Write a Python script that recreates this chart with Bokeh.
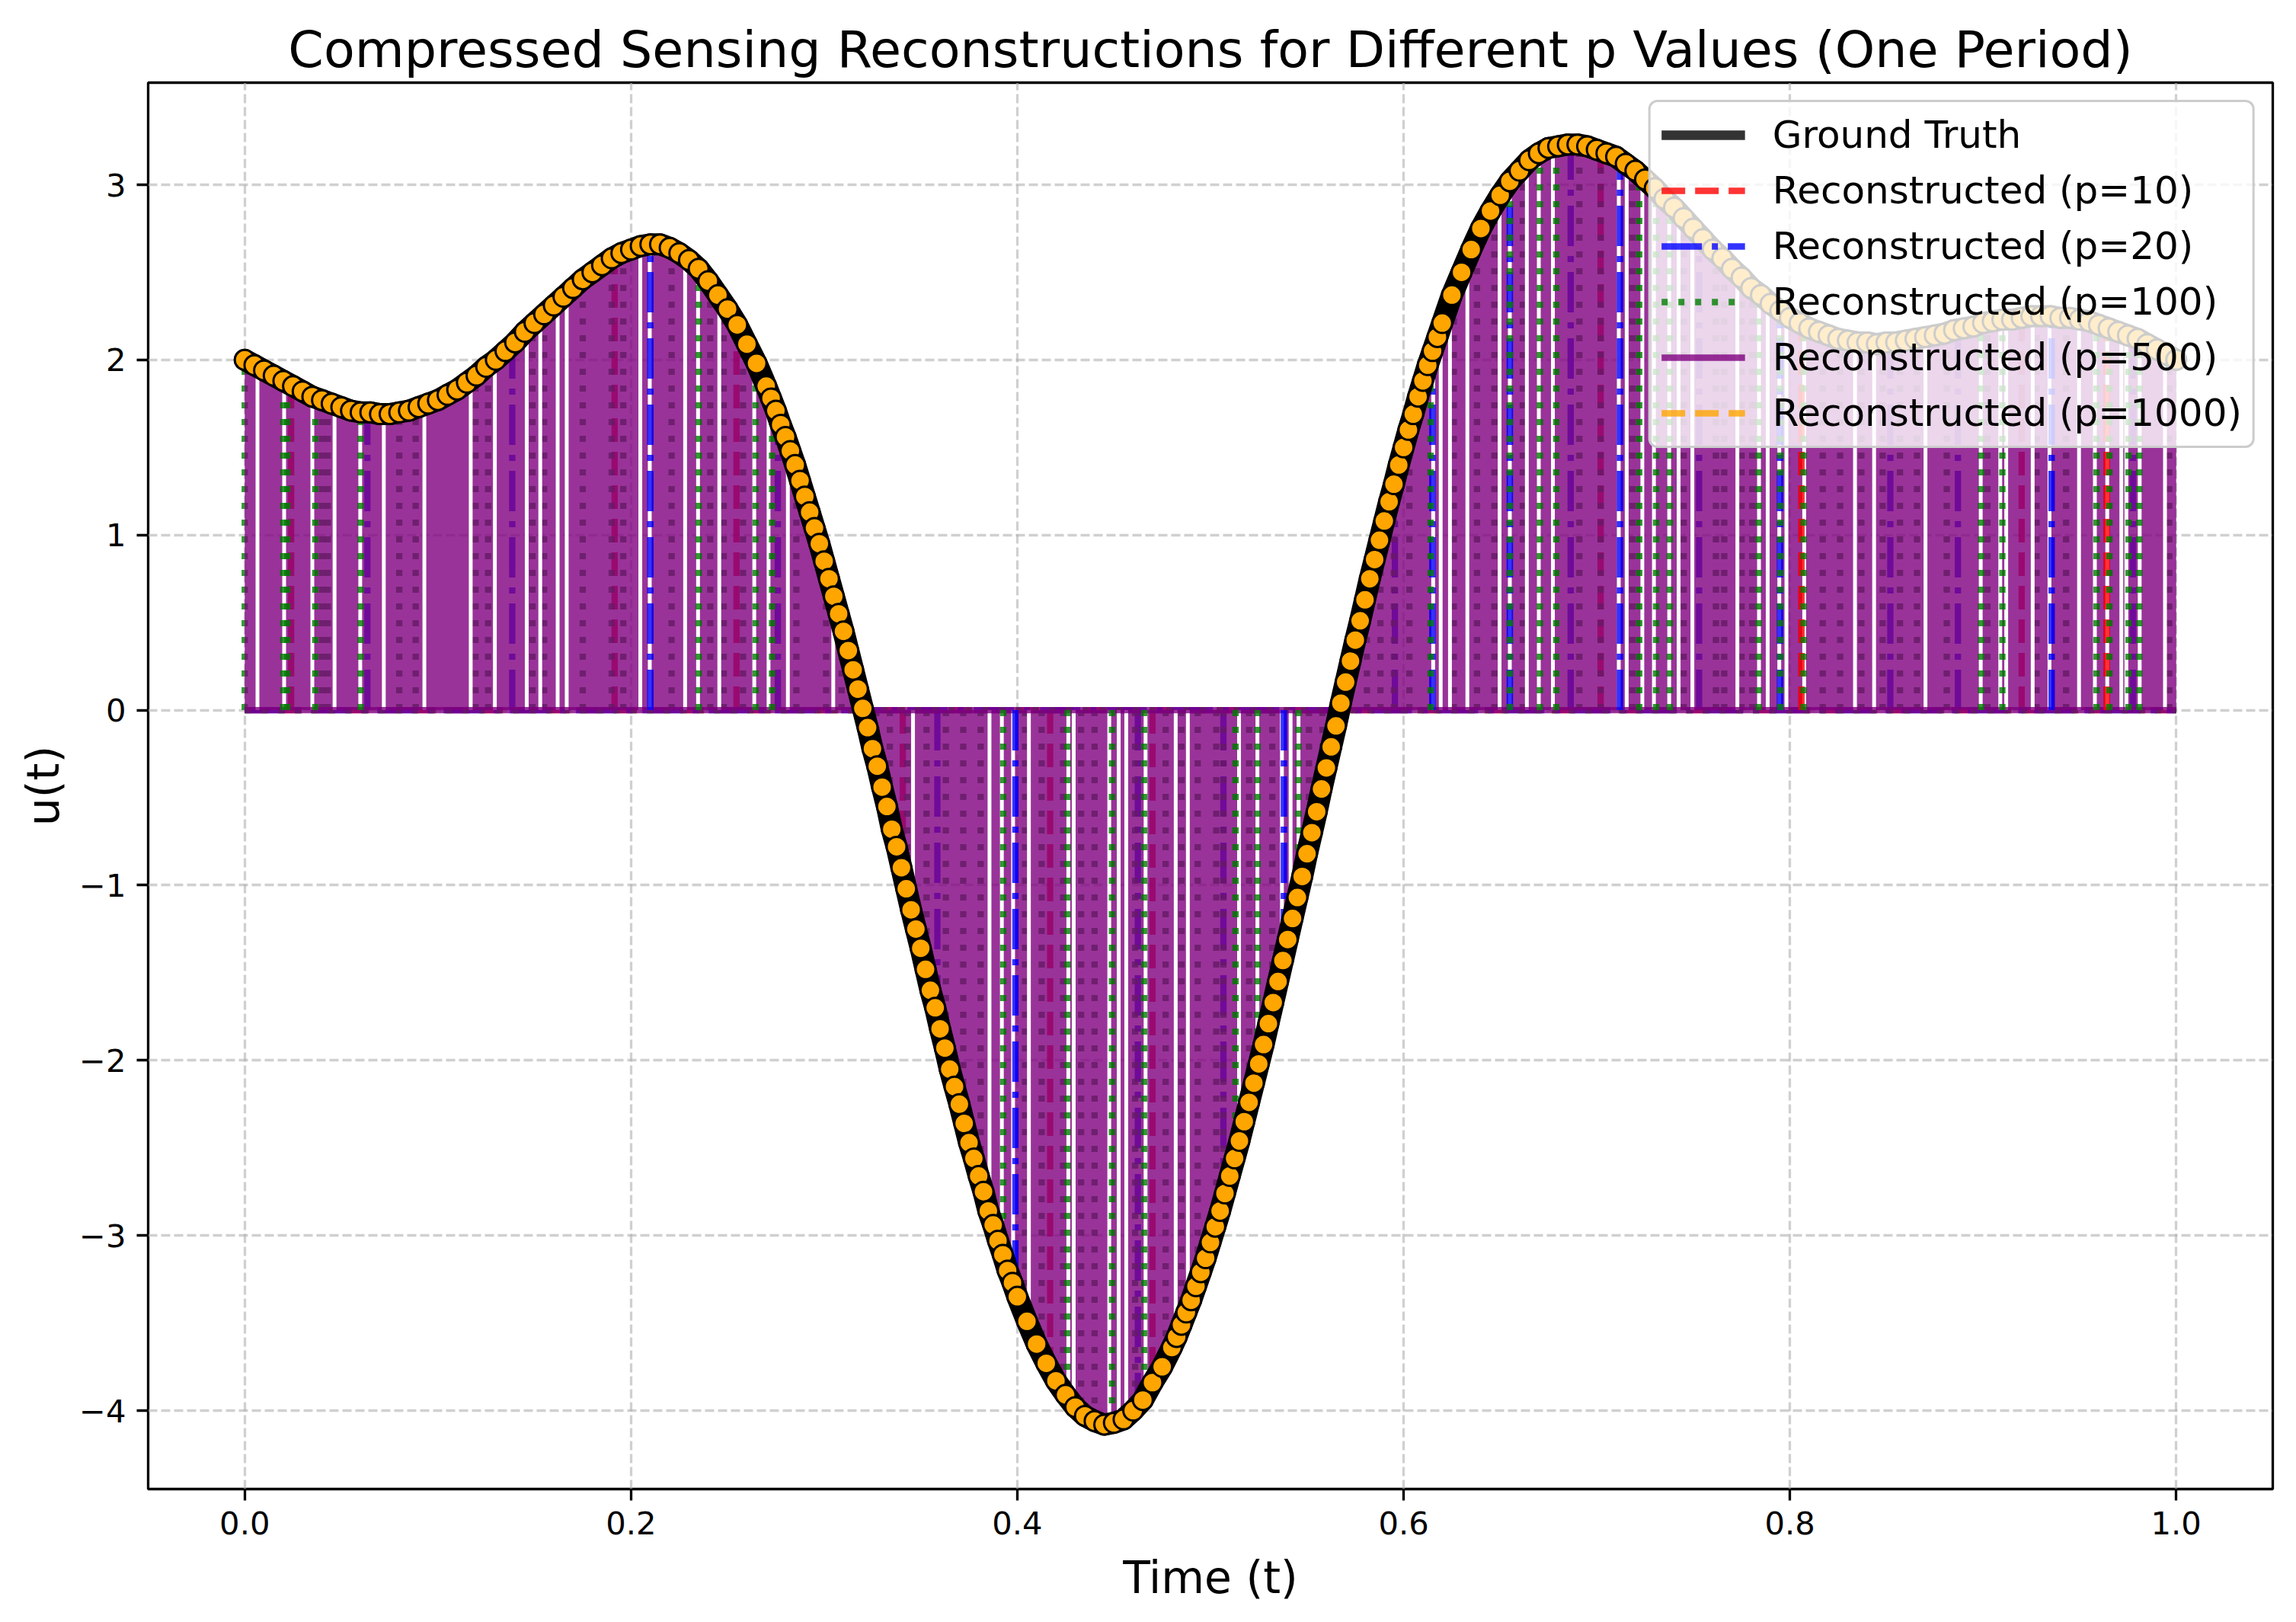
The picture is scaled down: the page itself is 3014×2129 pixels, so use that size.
import numpy as np
from bokeh.plotting import figure
from bokeh.models import Legend, LegendItem, FixedTicker, CustomJSTickFormatter, Range1d
from bokeh.embed import file_html
from bokeh.resources import INLINE

# ---------------- data ----------------
t_truth = [0.000, 0.005, 0.010, 0.015, 0.020, 0.025, 0.030, 0.035, 0.040, 0.045,
           0.050, 0.055, 0.060, 0.065, 0.070, 0.075, 0.080, 0.085, 0.090, 0.095,
           0.100, 0.105, 0.110, 0.115, 0.120, 0.125, 0.130, 0.135, 0.140, 0.145,
           0.150, 0.155, 0.160, 0.165, 0.170, 0.175, 0.180, 0.185, 0.190, 0.195,
           0.200, 0.205, 0.210, 0.215, 0.220, 0.225, 0.230, 0.235, 0.240, 0.245,
           0.250, 0.255, 0.260, 0.265,
           0.2700, 0.2725, 0.2750, 0.2775, 0.2800, 0.2825, 0.2850, 0.2875, 0.2900, 0.2925,
           0.2950, 0.2975, 0.3000, 0.3025, 0.3050, 0.3075, 0.3100, 0.3125, 0.3150, 0.3175,
           0.3200, 0.3225, 0.3250, 0.3275, 0.3300, 0.3325, 0.3350, 0.3375, 0.3400, 0.3425,
           0.3450, 0.3475, 0.3500, 0.3525, 0.3550, 0.3575, 0.3600, 0.3625, 0.3650, 0.3675,
           0.3700, 0.3725, 0.3750, 0.3775, 0.3800, 0.3825, 0.3850, 0.3875, 0.3900, 0.3925,
           0.3950, 0.3975, 0.4000,
           0.405, 0.410, 0.415, 0.420, 0.425, 0.430, 0.435, 0.440, 0.445, 0.450,
           0.455, 0.460, 0.465, 0.470, 0.475,
           0.4800, 0.4825, 0.4850, 0.4875, 0.4900, 0.4925, 0.4950, 0.4975, 0.5000, 0.5025,
           0.5050, 0.5075, 0.5100, 0.5125, 0.5150, 0.5175, 0.5200, 0.5225, 0.5250, 0.5275,
           0.5300, 0.5325, 0.5350, 0.5375, 0.5400, 0.5425, 0.5450, 0.5475, 0.5500, 0.5525,
           0.5550, 0.5575, 0.5600, 0.5625, 0.5650, 0.5675, 0.5700, 0.5725, 0.5750, 0.5775,
           0.5800, 0.5825, 0.5850, 0.5875, 0.5900, 0.5925, 0.5950, 0.5975, 0.6000, 0.6025,
           0.6050, 0.6075, 0.6100, 0.6125, 0.6150, 0.6175, 0.6200,
           0.625, 0.630, 0.635, 0.640, 0.645, 0.650, 0.655, 0.660, 0.665, 0.670,
           0.675, 0.680, 0.685, 0.690, 0.695, 0.700, 0.705, 0.710, 0.715, 0.720,
           0.725, 0.730, 0.735, 0.740, 0.745, 0.750, 0.755, 0.760, 0.765, 0.770,
           0.775, 0.780, 0.785, 0.790, 0.795, 0.800, 0.805, 0.810, 0.815, 0.820,
           0.825, 0.830, 0.835, 0.840, 0.845, 0.850, 0.855, 0.860, 0.865, 0.870,
           0.875, 0.880, 0.885, 0.890, 0.895, 0.900, 0.905, 0.910, 0.915, 0.920,
           0.925, 0.930, 0.935, 0.940, 0.945, 0.950, 0.955, 0.960, 0.965, 0.970,
           0.975, 0.980, 0.985, 0.990, 0.995, 1.000]
u_truth = [2.00, 1.97, 1.94, 1.91, 1.88, 1.85, 1.82, 1.79, 1.77, 1.75,
           1.73, 1.71, 1.70, 1.70, 1.69, 1.69, 1.70, 1.71, 1.73, 1.75,
           1.77, 1.80, 1.83, 1.87, 1.91, 1.96, 2.00, 2.05, 2.10, 2.16,
           2.21, 2.26, 2.31, 2.36, 2.41, 2.46, 2.50, 2.54, 2.58, 2.61,
           2.63, 2.65, 2.66, 2.66, 2.64, 2.61, 2.57, 2.52, 2.45, 2.37,
           2.29, 2.20, 2.09, 1.98,
           1.85, 1.78, 1.71, 1.63, 1.56, 1.48, 1.40, 1.31, 1.22, 1.13,
           1.04, 0.95, 0.85, 0.75, 0.65, 0.55, 0.45, 0.34, 0.23, 0.12,
           0.01, -0.10, -0.22, -0.32, -0.44, -0.55, -0.68, -0.78, -0.90, -1.02,
           -1.14, -1.25, -1.36, -1.48, -1.60, -1.70, -1.82, -1.93, -2.05, -2.15,
           -2.25, -2.36, -2.47, -2.56, -2.66, -2.75, -2.86, -2.94, -3.03, -3.11,
           -3.20, -3.27, -3.35,
           -3.49, -3.62, -3.73, -3.83, -3.91, -3.98, -4.03, -4.06, -4.08, -4.07,
           -4.05, -4.00, -3.94, -3.84, -3.75,
           -3.64, -3.58, -3.51, -3.44, -3.37, -3.29, -3.21, -3.13, -3.04, -2.95,
           -2.86, -2.76, -2.66, -2.56, -2.46, -2.35, -2.24, -2.13, -2.02, -1.91,
           -1.79, -1.67, -1.55, -1.43, -1.31, -1.19, -1.07, -0.95, -0.82, -0.70,
           -0.58, -0.45, -0.33, -0.21, -0.09, 0.04, 0.16, 0.28, 0.40, 0.51,
           0.63, 0.75, 0.86, 0.97, 1.08, 1.19, 1.29, 1.40, 1.50, 1.60,
           1.69, 1.79, 1.88, 1.97, 2.05, 2.13, 2.21,
           2.37, 2.50, 2.63, 2.75, 2.85, 2.94, 3.02, 3.08, 3.14, 3.18,
           3.21, 3.22, 3.23, 3.23, 3.22, 3.20, 3.18, 3.16, 3.12, 3.08,
           3.03, 2.98, 2.92, 2.87, 2.81, 2.75, 2.69, 2.63, 2.58, 2.52,
           2.47, 2.41, 2.37, 2.32, 2.28, 2.24, 2.21, 2.18, 2.16, 2.14,
           2.12, 2.11, 2.10, 2.10, 2.09, 2.10, 2.10, 2.11, 2.12, 2.13,
           2.14, 2.15, 2.17, 2.18, 2.19, 2.21, 2.22, 2.23, 2.23, 2.24,
           2.25, 2.25, 2.25, 2.24, 2.24, 2.23, 2.22, 2.20, 2.18, 2.16,
           2.14, 2.12, 2.09, 2.06, 2.03, 2.00]

# sample positions kept by each reconstruction (spikes)
t_p10 = [0.024, 0.1915, 0.2546, 0.3407, 0.417, 0.470, 0.702, 0.806, 0.920, 0.964]
t_p20 = [0.0635, 0.1385, 0.2100, 0.276, 0.3586, 0.399, 0.4624, 0.5067, 0.538, 0.5955,
         0.6149, 0.655, 0.6865, 0.712, 0.753, 0.7949, 0.852, 0.887, 0.9355, 0.9776]
t_p100 = [0.000, 0.020, 0.022, 0.0365, 0.040, 0.043, 0.060, 0.080, 0.0885, 0.1195,
          0.126, 0.149, 0.155, 0.175, 0.190, 0.196, 0.221, 0.235, 0.241, 0.248,
          0.258, 0.2645, 0.273, 0.2856, 0.301, 0.309, 0.318, 0.327, 0.334, 0.343,
          0.353, 0.363, 0.372, 0.381, 0.3927, 0.404, 0.4126, 0.4237, 0.426, 0.433,
          0.440, 0.449, 0.461, 0.4657, 0.4768, 0.485, 0.4934, 0.503, 0.5067, 0.513,
          0.520, 0.5244, 0.532, 0.5455, 0.551, 0.558, 0.571, 0.581, 0.588, 0.595,
          0.603, 0.614, 0.626, 0.638, 0.647, 0.655, 0.6617, 0.6705, 0.679, 0.691,
          0.702, 0.7185, 0.722, 0.7307, 0.7378, 0.745, 0.7617, 0.766, 0.775, 0.7805,
          0.7838, 0.795, 0.8071, 0.817, 0.826, 0.837, 0.848, 0.857, 0.8658, 0.8812,
          0.899, 0.9023, 0.910, 0.9277, 0.943, 0.9587, 0.9654, 0.9753, 0.9809, 0.9964]
# positions where the p=500 reconstruction leaves a gap (white slits)
t_gap500 = [0.0066, 0.0204, 0.035, 0.0465, 0.0598, 0.072, 0.093, 0.117, 0.1295, 0.146,
            0.153, 0.162, 0.1667, 0.2048, 0.2097, 0.228, 0.2347, 0.2457, 0.2638, 0.2712,
            0.2812, 0.3047, 0.3460, 0.3856, 0.3920, 0.3978, 0.406, 0.4264, 0.4292, 0.4476,
            0.4525, 0.4564, 0.4664, 0.482, 0.4883, 0.5148, 0.5243, 0.537, 0.5415, 0.5456,
            0.6153, 0.6192, 0.624, 0.633, 0.6497, 0.655, 0.6638, 0.6700, 0.6773, 0.7114,
            0.7155, 0.7236, 0.7296, 0.7375, 0.7424, 0.7495, 0.7728, 0.7840, 0.7885, 0.7945,
            0.7982, 0.8074, 0.8337, 0.8436, 0.8702, 0.8988, 0.9089, 0.912, 0.9257, 0.9344,
            0.9497, 0.9579, 0.9643, 0.9716, 0.9742, 0.9811, 0.9942]

x_ticks = [0.0, 0.2, 0.4, 0.6, 0.8, 1.0]
y_ticks = [-4, -3, -2, -1, 0, 1, 2, 3]
title_text = "Compressed Sensing Reconstructions for Different p Values (One Period)"
x_label = "Time (t)"
y_label = "u(t)"
labels = ["Ground Truth", "Reconstructed (p=10)", "Reconstructed (p=20)",
          "Reconstructed (p=100)", "Reconstructed (p=500)", "Reconstructed (p=1000)"]

# ---------------- helpers ----------------
n = min(len(t_truth), len(u_truth))
T = np.array(t_truth[:n])
U = np.array(u_truth[:n])


def spike_heights(ts, mode):
    ts = np.asarray(ts, dtype=float)
    i = np.clip(np.searchsorted(T, ts), 1, len(T) - 1)
    a, b = U[i - 1], U[i]
    same = np.sign(a) == np.sign(b)
    if mode == "min":
        mag = np.minimum(np.abs(a), np.abs(b))
    else:
        mag = np.maximum(np.abs(a), np.abs(b))
    return np.where(same, np.sign(a) * mag, 0.0)


def in_gap(ts):
    ts = np.asarray(ts, dtype=float)
    g = np.asarray(t_gap500)
    return np.array([np.min(np.abs(g - v)) < 0.002 for v in ts])


FONT = "DejaVu Sans"
LW2 = 8.3
p = figure(width=2998, height=2113, output_backend="svg", toolbar_location=None,
           x_range=Range1d(-0.05, 1.05), y_range=Range1d(-4.448, 3.583),
           min_border_left=194, min_border_right=15, min_border_top=108,
           min_border_bottom=159, background_fill_color="white",
           border_fill_color="white")

p.title.text = title_text
p.title.text_font = FONT
p.title.text_font_size = "66.7px"
p.title.text_font_style = "normal"
p.title.align = "center"
p.title.text_color = "black"

p.outline_line_color = "black"
p.outline_line_width = 3.3
p.outline_line_alpha = 1.0

for ax in (p.xaxis[0], p.yaxis[0]):
    ax.axis_line_color = None
    ax.major_tick_line_color = "black"
    ax.major_tick_line_width = 3.3
    ax.major_tick_out = 15
    ax.major_tick_in = 0
    ax.minor_tick_line_color = None
    ax.major_label_text_font = FONT
    ax.major_label_text_font_size = "41.7px"
    ax.major_label_text_color = "black"
    ax.major_label_standoff = 14
    ax.axis_label_text_font = FONT
    ax.axis_label_text_font_size = "58.3px"
    ax.axis_label_text_font_style = "normal"
    ax.axis_label_text_color = "black"

p.xaxis.axis_label = x_label
p.yaxis.axis_label = y_label
p.xaxis.axis_label_standoff = 20
p.yaxis.axis_label_standoff = 10
p.xaxis.ticker = FixedTicker(ticks=x_ticks)
p.yaxis.ticker = FixedTicker(ticks=y_ticks)
p.xaxis.formatter = CustomJSTickFormatter(code="return tick.toFixed(1);")
p.yaxis.formatter = CustomJSTickFormatter(
    code="return (tick < 0 ? '\\u2212' : '') + Math.abs(tick).toFixed(0);")

for g in (p.xgrid[0], p.ygrid[0]):
    g.grid_line_color = "#b0b0b0"
    g.grid_line_alpha = 0.6
    g.grid_line_width = 3.3
    g.grid_line_dash = "12 5"

t0, t1 = T[0], T[-1]

# --- sparse reconstructions below the dense one ---
styles = [
    (t_p10, "red", "31 13"),
    (t_p20, "blue", "53 13 8 13"),
    (t_p100, "green", "8 14"),
]
spike_r = []
for ts, col, dash in styles:
    p.line([t0, t1], [0, 0], line_color=col, line_alpha=0.8, line_width=LW2, line_dash=dash)
    r = p.segment(x0=ts, y0=np.zeros(len(ts)), x1=ts, y1=spike_heights(ts, "min"),
                  line_color=col, line_alpha=0.8, line_width=LW2, line_dash=dash)
    spike_r.append(r)

# --- p = 500: dense spikes, drawn as the area they fill, with the slits left open ---
p.varea(x=T, y1=np.zeros(len(T)), y2=U, fill_color="purple", fill_alpha=0.8)
p.segment(x0=t_gap500, y0=np.zeros(len(t_gap500)), x1=t_gap500,
          y1=spike_heights(t_gap500, "max"), line_color="white", line_width=5)
r500 = p.line([t0, t1], [0, 0], line_color="purple", line_alpha=0.8, line_width=LW2)

# sparse spikes that sit inside the slits stay visible on top
for ts, col, dash in styles:
    ts = np.asarray(ts)
    m = in_gap(ts)
    if m.any():
        tv = ts[m]
        p.segment(x0=tv, y0=np.zeros(len(tv)), x1=tv, y1=spike_heights(tv, "min"),
                  line_color=col, line_alpha=0.8, line_width=LW2, line_dash=dash)

# --- p = 1000, ground truth, dense samples ---
r1000 = p.line(T, U, line_color="orange", line_alpha=0.8, line_width=LW2,
               line_dash="31 13")
r_truth = p.line(T, U, line_color="black", line_alpha=0.8, line_width=12.5)
# the overlapping black-edged sample markers merge into a dark band along the curve
p.line(T, U, line_color="black", line_width=29, line_join="round", line_cap="round")
p.scatter(T, U, marker="circle", size=26, fill_color="orange",
          line_color="black", line_width=3)

legend = Legend(items=[
    LegendItem(label=labels[0], renderers=[r_truth]),
    LegendItem(label=labels[1], renderers=[spike_r[0]]),
    LegendItem(label=labels[2], renderers=[spike_r[1]]),
    LegendItem(label=labels[3], renderers=[spike_r[2]]),
    LegendItem(label=labels[4], renderers=[r500]),
    LegendItem(label=labels[5], renderers=[r1000]),
], location="top_right")
legend.margin = 23
legend.padding = 14
legend.spacing = 15
legend.glyph_width = 110
legend.glyph_height = 58
legend.label_height = 58
legend.label_standoff = 36
legend.label_text_font = FONT
legend.label_text_font_size = "50px"
legend.label_text_color = "black"
legend.background_fill_color = "white"
legend.background_fill_alpha = 0.8
legend.border_line_color = "#cccccc"
legend.border_line_width = 3.3
legend.border_line_alpha = 1.0
try:
    legend.border_radius = 12
except Exception:
    pass
p.add_layout(legend)

open("out.html", "w").write(file_html(p, INLINE))
